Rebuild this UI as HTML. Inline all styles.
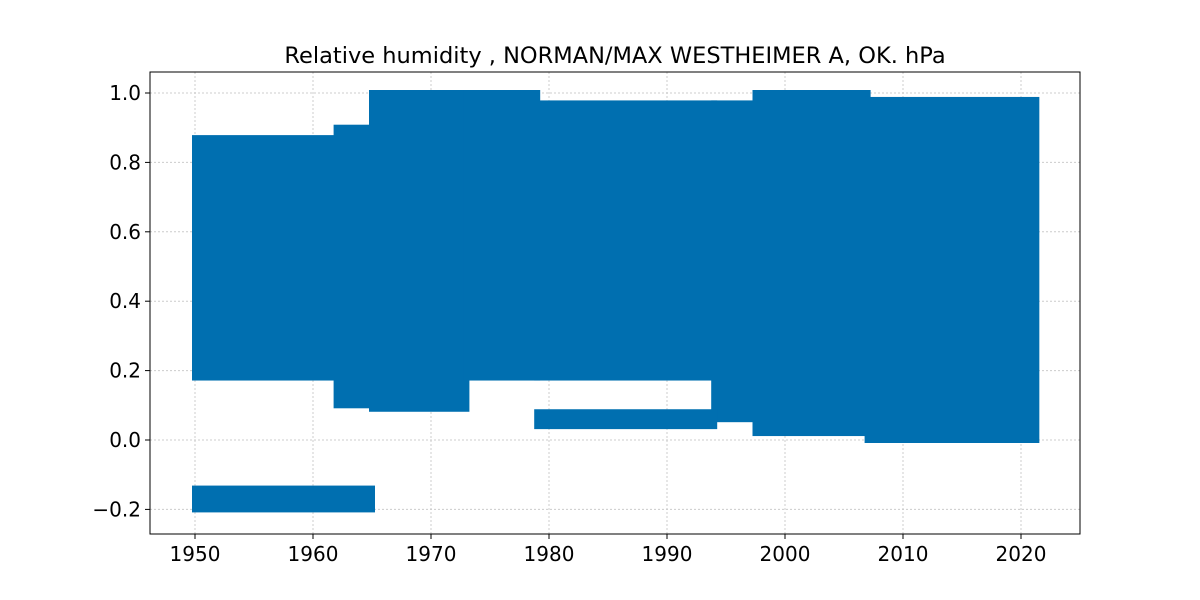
<!DOCTYPE html>
<html><head><meta charset="utf-8"><style>
body{margin:0;background:#fff;}
svg{display:block;font-family:"DejaVu Sans","Liberation Sans",sans-serif;}
</style></head><body>
<svg id="chart" width="1200" height="600">
<rect x="0" y="0" width="1200" height="600" fill="#fff"/>
<text x="615" y="63" text-anchor="middle" font-size="22.5">Relative humidity , NORMAN/MAX WESTHEIMER A, OK.  hPa</text>
<g id="grid"></g><g id="marks"></g>
<rect x="150" y="72" width="930" height="462" fill="none" stroke="#000" stroke-width="1"/>
<g id="axes"></g>
</svg>
<script>
const segStart=[1950,1962,1965,1973,1979,1994,1997.5,2007];
const segEnd=[1962,1965,1973,1979,1994,1997.5,2007,2021.3];
const segLow=[0.18,0.1,0.09,0.18,0.18,0.06,0.02,0.0];
const segHigh=[0.87,0.9,1.0,1.0,0.97,0.97,1.0,0.98];
const bandStart=[1950,1979];
const bandEnd=[1965,1994];
const bandLow=[-0.2,0.04];
const bandHigh=[-0.14,0.08];
const xTicks=[1950,1960,1970,1980,1990,2000,2010,2020];
const yTicks=[-0.2,0.0,0.2,0.4,0.6,0.8,1.0];
const xs=y=>195+(y-1950)*(1021-195)/70;
const ys=v=>440-v*347;
const NS="http://www.w3.org/2000/svg";
const grid=document.getElementById('grid'),marks=document.getElementById('marks'),axes=document.getElementById('axes');
function mk(tag,at,p){const e=document.createElementNS(NS,tag);for(const k in at)e.setAttribute(k,at[k]);p.appendChild(e);return e;}
xTicks.forEach(t=>{
 const l=mk('line',{x1:xs(t),x2:xs(t),y1:72,y2:534,stroke:'#ccc','stroke-dasharray':'2,2'},grid);
 
 
 mk('line',{x1:xs(t),x2:xs(t),y1:534,y2:539,stroke:'#000'},axes);
 const tx=mk('text',{x:xs(t),y:561,'text-anchor':'middle','font-size':20},axes);tx.textContent=t;
 
 
});
yTicks.forEach(t=>{
 const l=mk('line',{x1:150,x2:1080,y1:ys(t),y2:ys(t),stroke:'#ccc','stroke-dasharray':'2,2'},grid);
 
 
 mk('line',{x1:145,x2:150,y1:ys(t),y2:ys(t),stroke:'#000'},axes);
 const tx=mk('text',{x:141,y:ys(t)+7,'text-anchor':'end','font-size':20},axes);
 tx.textContent=(t<0?'\u2212':'')+Math.abs(t).toFixed(1);
 
 
});
segStart.forEach((s,i)=>{
 const r=mk('rect',{x:xs(s)-3,y:ys(segHigh[i])-3,width:xs(segEnd[i])-xs(s)+6,height:ys(segLow[i])-ys(segHigh[i])+6,fill:'#006fb0'},marks);
 
 
});
bandStart.forEach((s,i)=>{
 const r=mk('rect',{x:xs(s)-3,y:ys(bandHigh[i])-3,width:xs(bandEnd[i])-xs(s)+6,height:ys(bandLow[i])-ys(bandHigh[i])+6,fill:'#006fb0'},marks);
 
 
});
</script>
</body></html>
